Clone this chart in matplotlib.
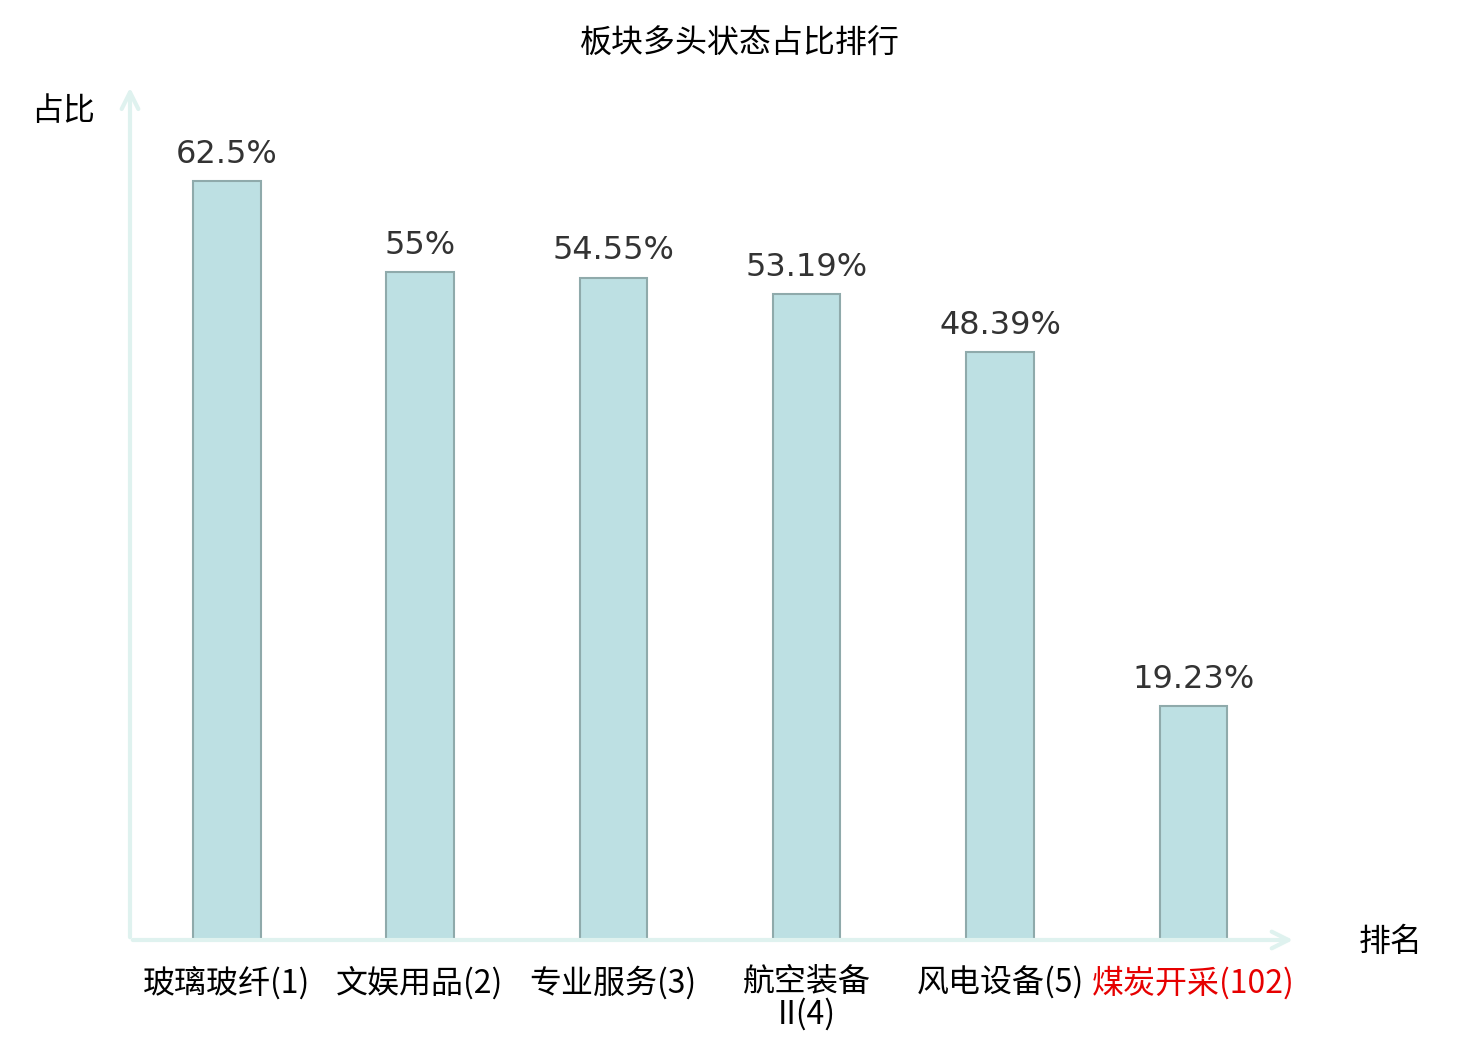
import matplotlib
matplotlib.use('Agg')
import matplotlib.pyplot as plt

# Chart data
sectors = ['玻璃玻纤', '文娱用品', '专业服务', '航空装备\nII', '风电设备', '煤炭开采']
ranks = [1, 2, 3, 4, 5, 102]
ratios = [62.5, 55, 54.55, 53.19, 48.39, 19.23]

plt.rcParams['font.family'] = ['Noto Sans CJK SC', 'DejaVu Sans']

fig = plt.figure(figsize=(14.8, 10.4), dpi=100)
ax = fig.add_axes([130 / 1480, 100 / 1040, 1160 / 1480, 850 / 1040])

x = list(range(len(sectors)))
ax.bar(x, ratios, width=0.35, color='#bde0e3', edgecolor='#8faaab', linewidth=1.5, zorder=2)

# value labels above bars
for xi, v in zip(x, ratios):
    ax.annotate('{:g}%'.format(v), (xi, v), xytext=(0, 8), textcoords='offset points',
                ha='center', va='bottom', fontsize=23, color='#333333', family='DejaVu Sans')

ax.set_xlim(-0.5, 5.5)
ax.set_ylim(0, 70)

labels = ['{}({})'.format(s, r) for s, r in zip(sectors, ranks)]
ax.set_xticks(x)
ax.set_xticklabels(labels, fontsize=23, linespacing=1.0)
ax.get_xticklabels()[-1].set_color('#e60000')
ax.tick_params(axis='x', length=0, pad=19)
ax.set_yticks([])

for sp in ax.spines.values():
    sp.set_visible(False)

# axis arrows
axis_col = '#dff2ef'
ax.annotate('', xy=(1.005, 0), xytext=(0, 0), xycoords='axes fraction',
            arrowprops=dict(arrowstyle='->', color=axis_col, lw=3, mutation_scale=30))
ax.annotate('', xy=(0, 1.006), xytext=(0, 0), xycoords='axes fraction',
            arrowprops=dict(arrowstyle='->', color=axis_col, lw=3, mutation_scale=30))

fig.text(740 / 1480, 1 - 44 / 1040, '板块多头状态占比排行', ha='center', va='center', fontsize=23)
fig.text(63 / 1480, 1 - 111 / 1040, '占比', ha='center', va='center', fontsize=23)
fig.text(1391 / 1480, 1 - 942 / 1040, '排名', ha='center', va='center', fontsize=23)

fig.savefig('out.png', dpi=100)
